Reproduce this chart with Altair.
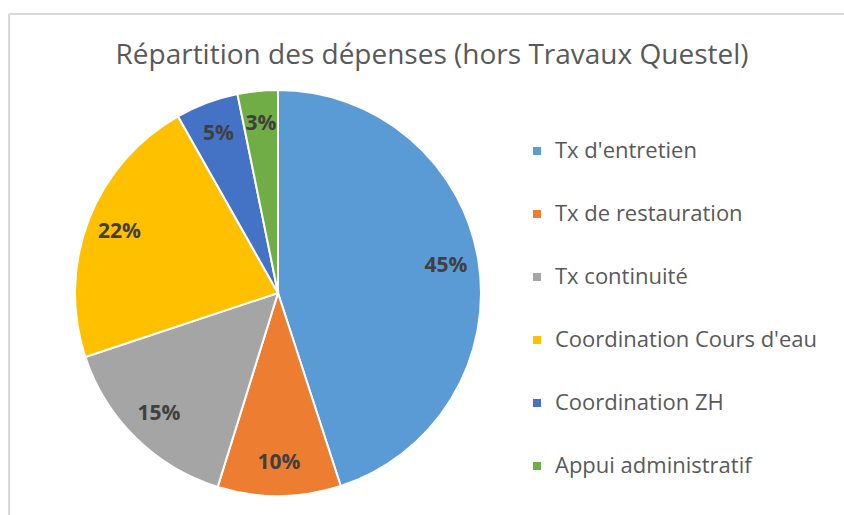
import altair as alt
import pandas as pd

TITLE = "Répartition des dépenses (hors Travaux Questel)"
categories = ["Tx d'entretien", "Tx de restauration", "Tx continuité",
              "Coordination Cours d'eau", "Coordination ZH", "Appui administratif"]
values = [45.0, 9.8, 15.1, 21.9, 5.0, 3.2]
colors = ["#5B9BD5", "#ED7D31", "#A5A5A5", "#FFC000", "#4472C4", "#70AD47"]

df = pd.DataFrame({"cat": categories, "val": values, "order": list(range(len(categories)))})

FONT = "Open Sans"
CX, CY = 278, 213

base = alt.Chart(df).transform_calculate(
    label="round(datum.val) + '%'"
).encode(
    theta=alt.Theta("val:Q", stack=True),
    order=alt.Order("order:Q"),
)

arc = base.mark_arc(outerRadius=203, stroke="white", strokeWidth=2).encode(
    x=alt.value(CX), y=alt.value(CY),
    color=alt.Color("cat:N", sort=categories,
                    scale=alt.Scale(domain=categories, range=colors),
                    legend=alt.Legend(title=None, orient="none", legendX=526, legendY=60,
                                      symbolType="square", symbolSize=64, symbolStrokeWidth=0,
                                      labelFont=FONT, labelFontSize=22, labelColor="#595959",
                                      labelOffset=7, rowPadding=41, labelLimit=400)),
)

text = base.mark_text(radius=170, font=FONT, fontSize=21, fontWeight="bold", color="#404040").encode(
    x=alt.value(CX), y=alt.value(CY),
    detail="cat:N",
    text="label:N",
)

one = pd.DataFrame({"a": [0]})
top_rule = alt.Chart(one).mark_rule(color="#D9D9D9", strokeWidth=2).encode(
    x=alt.value(9), x2=alt.value(844), y=alt.value(-66))
left_rule = alt.Chart(one).mark_rule(color="#D9D9D9", strokeWidth=2).encode(
    x=alt.value(9), y=alt.value(-66), y2=alt.value(435))
title = alt.Chart(one).mark_text(font=FONT, fontSize=28, color="#595959",
                                  align="center", baseline="alphabetic").encode(
    x=alt.value(432), y=alt.value(-16), text=alt.value(TITLE))

chart = alt.layer(top_rule, left_rule, arc, text, title).properties(
    width=844, height=435,
    autosize=alt.AutoSizeParams(type="none"),
    padding={"top": 80, "left": 0, "right": 0, "bottom": 0},
    background="white",
).configure_view(strokeWidth=0, stroke="transparent")

chart.save("out.html", embed_options={"renderer": "svg", "actions": False})
